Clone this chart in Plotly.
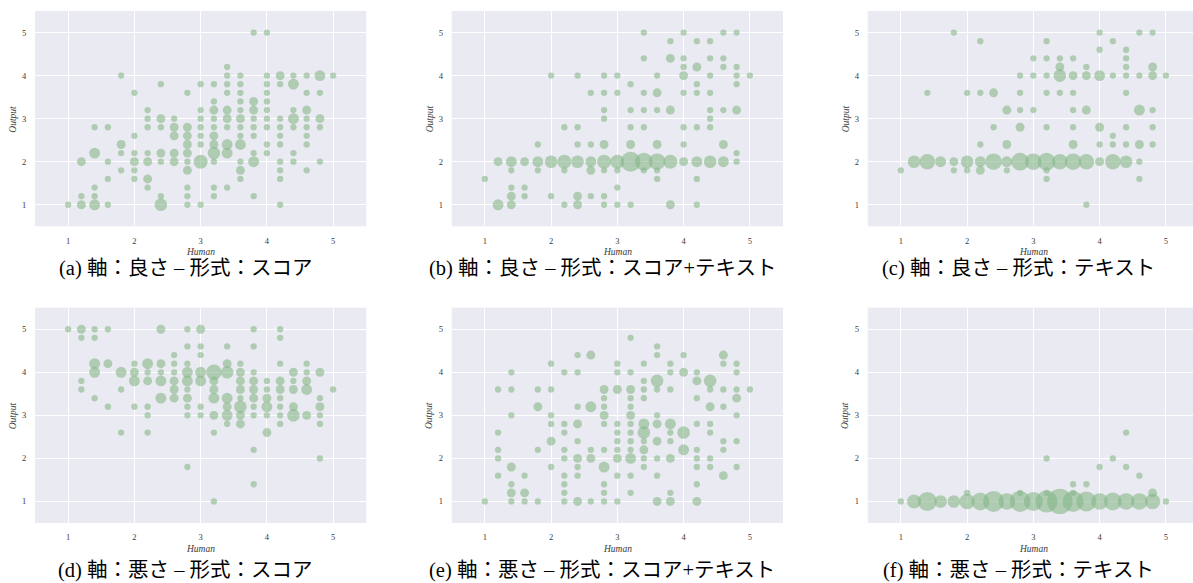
import math
import plotly.graph_objects as go

# ---------------- data: (Human, Output, count) per panel ----------------
pts_a = [
    (1.0, 1.0, 1),
    (1.2, 2.0, 2), (1.2, 1.2, 1), (1.2, 1.0, 2),
    (1.4, 2.8, 1), (1.4, 2.2, 3), (1.4, 1.4, 1), (1.4, 1.2, 1), (1.4, 1.0, 3),
    (1.6, 2.8, 1), (1.6, 2.0, 1), (1.6, 1.6, 1), (1.6, 1.0, 1),
    (1.8, 4.0, 1), (1.8, 2.4, 2), (1.8, 2.2, 1), (1.8, 1.8, 1),
    (2.0, 3.6, 1), (2.0, 2.6, 1), (2.0, 2.2, 1), (2.0, 2.0, 2), (2.0, 1.8, 1), (2.0, 1.6, 1),
    (2.2, 3.2, 1), (2.2, 3.0, 1), (2.2, 2.8, 1), (2.2, 2.2, 1), (2.2, 2.0, 2), (2.2, 1.6, 2), (2.2, 1.4, 1),
    (2.4, 3.8, 1), (2.4, 3.0, 2), (2.4, 2.8, 1), (2.4, 2.2, 2), (2.4, 2.0, 1), (2.4, 1.2, 1), (2.4, 1.0, 4),
    (2.6, 3.0, 1), (2.6, 2.8, 2), (2.6, 2.6, 2), (2.6, 2.2, 2), (2.6, 2.0, 2),
    (2.8, 3.6, 1), (2.8, 2.8, 2), (2.8, 2.6, 2), (2.8, 2.4, 2), (2.8, 2.2, 2), (2.8, 2.0, 1),
    (2.8, 1.8, 2), (2.8, 1.4, 1), (2.8, 1.2, 1), (2.8, 1.0, 1),
    (3.0, 3.8, 1), (3.0, 3.2, 1), (3.0, 3.0, 1), (3.0, 2.8, 1), (3.0, 2.6, 1), (3.0, 2.4, 1), (3.0, 2.0, 5), (3.0, 1.0, 1),
    (3.2, 3.8, 1), (3.2, 3.4, 1), (3.2, 3.2, 2), (3.2, 3.0, 1), (3.2, 2.8, 1), (3.2, 2.6, 2), (3.2, 2.4, 2),
    (3.2, 2.2, 4), (3.2, 2.0, 1), (3.2, 1.4, 1), (3.2, 1.2, 1),
    (3.4, 4.2, 1), (3.4, 4.0, 1), (3.4, 3.8, 1), (3.4, 3.6, 1), (3.4, 3.2, 2), (3.4, 3.0, 2), (3.4, 2.8, 1),
    (3.4, 2.4, 3), (3.4, 2.2, 3), (3.4, 1.4, 1),
    (3.6, 4.0, 1), (3.6, 3.8, 1), (3.6, 3.6, 1), (3.6, 3.4, 1), (3.6, 3.2, 1), (3.6, 3.0, 2), (3.6, 2.8, 1),
    (3.6, 2.6, 1), (3.6, 2.4, 3), (3.6, 2.0, 1), (3.6, 1.8, 2), (3.6, 1.6, 1),
    (3.8, 5.0, 1), (3.8, 3.4, 2), (3.8, 3.2, 2), (3.8, 3.0, 1), (3.8, 2.8, 1), (3.8, 2.6, 1), (3.8, 2.2, 1),
    (3.8, 2.0, 3), (3.8, 1.2, 1),
    (4.0, 5.0, 1), (4.0, 4.0, 1), (4.0, 3.8, 1), (4.0, 3.6, 1), (4.0, 3.4, 1), (4.0, 3.2, 1), (4.0, 3.0, 1),
    (4.0, 2.8, 1), (4.0, 2.4, 1), (4.0, 2.2, 1),
    (4.2, 4.0, 2), (4.2, 3.8, 1), (4.2, 3.0, 1), (4.2, 2.8, 1), (4.2, 2.6, 1), (4.2, 2.4, 1), (4.2, 2.0, 1),
    (4.2, 1.8, 1), (4.2, 1.6, 1), (4.2, 1.0, 1),
    (4.4, 4.0, 1), (4.4, 3.8, 3), (4.4, 3.2, 1), (4.4, 3.0, 3), (4.4, 2.8, 1), (4.4, 2.2, 1), (4.4, 2.0, 1),
    (4.6, 4.0, 1), (4.6, 3.6, 1), (4.6, 3.2, 2), (4.6, 3.0, 1), (4.6, 2.8, 1), (4.6, 2.6, 1), (4.6, 2.4, 1), (4.6, 1.8, 1),
    (4.8, 4.0, 3), (4.8, 3.6, 1), (4.8, 3.0, 2), (4.8, 2.8, 1), (4.8, 2.0, 1),
    (5.0, 4.0, 1),
]

pts_b = [
    (1.0, 1.6, 1),
    (1.2, 2.0, 2), (1.2, 1.0, 3),
    (1.4, 2.0, 3), (1.4, 1.8, 1), (1.4, 1.4, 1), (1.4, 1.2, 2), (1.4, 1.0, 2),
    (1.6, 2.0, 2), (1.6, 1.4, 1), (1.6, 1.2, 1),
    (1.8, 2.4, 1), (1.8, 2.0, 3), (1.8, 1.8, 1),
    (2.0, 4.0, 1), (2.0, 2.0, 4), (2.0, 1.2, 1),
    (2.2, 2.8, 1), (2.2, 2.0, 5), (2.2, 1.8, 1), (2.2, 1.0, 1),
    (2.4, 4.0, 1), (2.4, 2.8, 1), (2.4, 2.4, 1), (2.4, 2.0, 4), (2.4, 1.2, 2), (2.4, 1.0, 2),
    (2.6, 3.6, 1), (2.6, 2.4, 1), (2.6, 2.0, 3), (2.6, 1.8, 2), (2.6, 1.2, 1),
    (2.8, 4.0, 1), (2.8, 3.6, 1), (2.8, 3.2, 1), (2.8, 3.0, 1), (2.8, 2.4, 2), (2.8, 2.0, 5),
    (2.8, 1.8, 1), (2.8, 1.2, 1), (2.8, 1.0, 1),
    (3.0, 4.0, 1), (3.0, 3.6, 1), (3.0, 2.0, 5), (3.0, 1.8, 1), (3.0, 1.4, 1), (3.0, 1.0, 1),
    (3.2, 3.8, 1), (3.2, 3.2, 1), (3.2, 2.8, 1), (3.2, 2.4, 2), (3.2, 2.0, 10), (3.2, 1.0, 1),
    (3.4, 5.0, 1), (3.4, 4.4, 1), (3.4, 3.6, 1), (3.4, 3.2, 1), (3.4, 2.8, 1), (3.4, 2.0, 8), (3.4, 1.8, 1),
    (3.6, 4.0, 1), (3.6, 3.6, 2), (3.6, 3.2, 1), (3.6, 2.4, 2), (3.6, 2.0, 7), (3.6, 1.8, 1), (3.6, 1.6, 1),
    (3.8, 4.8, 1), (3.8, 4.4, 2), (3.8, 3.2, 2), (3.8, 2.0, 5), (3.8, 1.0, 2),
    (4.0, 5.0, 1), (4.0, 4.4, 1), (4.0, 4.2, 1), (4.0, 4.0, 2), (4.0, 3.6, 1), (4.0, 2.8, 1), (4.0, 2.4, 1), (4.0, 2.0, 2),
    (4.2, 4.8, 1), (4.2, 4.2, 2), (4.2, 3.8, 1), (4.2, 3.6, 1), (4.2, 2.8, 1), (4.2, 2.0, 3), (4.2, 1.6, 1), (4.2, 1.0, 1),
    (4.4, 4.8, 1), (4.4, 4.4, 1), (4.4, 4.0, 1), (4.4, 3.6, 1), (4.4, 3.2, 1), (4.4, 3.0, 1), (4.4, 2.8, 1), (4.4, 2.0, 4),
    (4.6, 5.0, 1), (4.6, 4.4, 1), (4.6, 4.2, 1), (4.6, 3.2, 1), (4.6, 2.4, 2), (4.6, 2.0, 3),
    (4.8, 5.0, 1), (4.8, 4.2, 1), (4.8, 4.0, 1), (4.8, 3.8, 1), (4.8, 3.2, 2), (4.8, 2.2, 1), (4.8, 2.0, 1),
    (5.0, 4.0, 1),
]

pts_c = [
    (1.0, 1.8, 1),
    (1.2, 2.0, 4),
    (1.4, 3.6, 1), (1.4, 2.0, 6),
    (1.6, 2.0, 3),
    (1.8, 5.0, 1), (1.8, 2.0, 2), (1.8, 1.8, 1),
    (2.0, 3.6, 1), (2.0, 2.0, 4), (2.0, 1.8, 1),
    (2.2, 4.8, 1), (2.2, 3.6, 1), (2.2, 2.4, 1), (2.2, 2.0, 3), (2.2, 1.8, 2),
    (2.4, 3.6, 2), (2.4, 2.8, 1), (2.4, 2.0, 7),
    (2.6, 3.2, 2), (2.6, 2.4, 2), (2.6, 2.0, 3), (2.6, 1.8, 1),
    (2.8, 4.0, 1), (2.8, 3.6, 1), (2.8, 3.2, 1), (2.8, 2.8, 2), (2.8, 2.0, 8),
    (3.0, 4.4, 1), (3.0, 4.0, 1), (3.0, 3.2, 1), (3.0, 2.0, 7),
    (3.2, 4.8, 1), (3.2, 4.4, 1), (3.2, 4.0, 1), (3.2, 3.6, 1), (3.2, 2.8, 1), (3.2, 2.0, 8), (3.2, 1.8, 1), (3.2, 1.6, 1),
    (3.4, 4.4, 1), (3.4, 4.2, 2), (3.4, 4.0, 4), (3.4, 3.6, 1), (3.4, 2.0, 6),
    (3.6, 4.4, 1), (3.6, 4.0, 2), (3.6, 3.6, 1), (3.6, 3.2, 1), (3.6, 2.8, 1), (3.6, 2.4, 2), (3.6, 2.0, 7),
    (3.8, 4.2, 1), (3.8, 4.0, 2), (3.8, 3.2, 2), (3.8, 2.0, 6), (3.8, 1.0, 1),
    (4.0, 5.0, 1), (4.0, 4.6, 1), (4.0, 4.0, 3), (4.0, 2.8, 2), (4.0, 2.4, 1), (4.0, 2.0, 2),
    (4.2, 4.8, 1), (4.2, 4.0, 1), (4.2, 2.6, 1), (4.2, 2.4, 1), (4.2, 2.0, 6),
    (4.4, 4.6, 1), (4.4, 4.4, 1), (4.4, 4.2, 1), (4.4, 4.0, 1), (4.4, 3.6, 1), (4.4, 2.8, 1), (4.4, 2.4, 1), (4.4, 2.0, 4),
    (4.6, 5.0, 1), (4.6, 4.0, 1), (4.6, 3.2, 3), (4.6, 2.4, 2), (4.6, 2.0, 1), (4.6, 1.6, 1),
    (4.8, 5.0, 1), (4.8, 4.2, 2), (4.8, 4.0, 2), (4.8, 3.2, 1), (4.8, 2.8, 1), (4.8, 2.4, 1),
    (5.0, 4.0, 1),
]

pts_d = [
    (1.0, 5.0, 1),
    (1.2, 5.0, 2), (1.2, 4.8, 1), (1.2, 3.8, 1), (1.2, 3.6, 1),
    (1.4, 5.0, 1), (1.4, 4.8, 1), (1.4, 4.2, 3), (1.4, 4.0, 3), (1.4, 3.4, 1),
    (1.6, 5.0, 1), (1.6, 4.2, 2), (1.6, 3.2, 1),
    (1.8, 4.0, 3), (1.8, 3.6, 1), (1.8, 2.6, 1),
    (2.0, 4.2, 1), (2.0, 4.0, 2), (2.0, 3.8, 3), (2.0, 3.2, 1),
    (2.2, 4.2, 3), (2.2, 4.0, 1), (2.2, 3.8, 2), (2.2, 3.2, 1), (2.2, 3.0, 1), (2.2, 2.6, 1),
    (2.4, 5.0, 2), (2.4, 4.2, 2), (2.4, 4.0, 1), (2.4, 3.8, 3), (2.4, 3.4, 3),
    (2.6, 4.4, 1), (2.6, 4.2, 1), (2.6, 4.0, 1), (2.6, 3.8, 2), (2.6, 3.6, 2), (2.6, 3.4, 2),
    (2.8, 5.0, 1), (2.8, 4.6, 1), (2.8, 4.2, 1), (2.8, 4.0, 3), (2.8, 3.8, 3), (2.8, 3.6, 1),
    (2.8, 3.4, 2), (2.8, 3.2, 1), (2.8, 3.0, 1), (2.8, 1.8, 1),
    (3.0, 5.0, 2), (3.0, 4.6, 1), (3.0, 4.4, 1), (3.0, 4.0, 3), (3.0, 3.8, 3), (3.0, 3.2, 1), (3.0, 3.0, 1),
    (3.2, 4.0, 6), (3.2, 3.8, 2), (3.2, 3.6, 2), (3.2, 3.4, 3), (3.2, 3.0, 2), (3.2, 2.6, 1), (3.2, 1.0, 1),
    (3.4, 4.6, 1), (3.4, 4.2, 2), (3.4, 4.0, 4), (3.4, 3.4, 3), (3.4, 3.2, 2), (3.4, 3.0, 3), (3.4, 2.8, 1),
    (3.6, 4.2, 1), (3.6, 4.0, 2), (3.6, 3.8, 2), (3.6, 3.6, 2), (3.6, 3.4, 1), (3.6, 3.2, 4), (3.6, 3.0, 2), (3.6, 2.8, 2),
    (3.8, 5.0, 1), (3.8, 4.6, 1), (3.8, 4.0, 1), (3.8, 3.8, 2), (3.8, 3.6, 2), (3.8, 3.4, 2), (3.8, 3.2, 1),
    (3.8, 3.0, 1), (3.8, 2.2, 1), (3.8, 1.4, 1),
    (4.0, 3.8, 1), (4.0, 3.6, 1), (4.0, 3.4, 2), (4.0, 3.2, 3), (4.0, 3.0, 1), (4.0, 2.6, 2),
    (4.2, 5.0, 1), (4.2, 4.8, 1), (4.2, 4.2, 1), (4.2, 3.8, 2), (4.2, 3.6, 2), (4.2, 3.4, 1), (4.2, 3.2, 1),
    (4.2, 3.0, 1), (4.2, 2.8, 1),
    (4.4, 4.0, 2), (4.4, 3.8, 1), (4.4, 3.6, 2), (4.4, 3.2, 2), (4.4, 3.0, 4),
    (4.6, 4.2, 1), (4.6, 4.0, 1), (4.6, 3.8, 2), (4.6, 3.6, 3), (4.6, 3.0, 2),
    (4.8, 4.0, 2), (4.8, 3.4, 1), (4.8, 3.2, 2), (4.8, 3.0, 1), (4.8, 2.8, 1), (4.8, 2.0, 1),
    (5.0, 3.6, 1),
]

pts_e = [
    (1.0, 1.0, 1),
    (1.2, 3.6, 1), (1.2, 2.6, 1), (1.2, 2.2, 1), (1.2, 2.0, 1), (1.2, 1.6, 1),
    (1.4, 4.0, 1), (1.4, 3.6, 1), (1.4, 3.0, 1), (1.4, 1.8, 2), (1.4, 1.4, 1), (1.4, 1.2, 2), (1.4, 1.0, 1),
    (1.6, 1.6, 1), (1.6, 1.2, 2), (1.6, 1.0, 1),
    (1.8, 3.6, 1), (1.8, 3.2, 2), (1.8, 2.2, 1), (1.8, 1.0, 1),
    (2.0, 4.2, 1), (2.0, 3.6, 1), (2.0, 3.0, 1), (2.0, 2.8, 1), (2.0, 2.4, 2), (2.0, 1.8, 1),
    (2.2, 4.0, 1), (2.2, 2.8, 1), (2.2, 2.6, 1), (2.2, 2.2, 1), (2.2, 2.0, 1), (2.2, 1.6, 1),
    (2.2, 1.4, 1), (2.2, 1.2, 1), (2.2, 1.0, 1),
    (2.4, 4.4, 1), (2.4, 4.0, 1), (2.4, 3.2, 1), (2.4, 2.8, 2), (2.4, 2.4, 1), (2.4, 2.0, 2),
    (2.4, 1.8, 1), (2.4, 1.6, 1), (2.4, 1.0, 2),
    (2.6, 4.4, 2), (2.6, 3.2, 3), (2.6, 2.2, 1), (2.6, 2.0, 2), (2.6, 1.0, 1),
    (2.8, 3.6, 2), (2.8, 3.4, 1), (2.8, 3.2, 1), (2.8, 3.0, 2), (2.8, 2.8, 1), (2.8, 2.2, 1),
    (2.8, 1.8, 3), (2.8, 1.4, 1), (2.8, 1.2, 1), (2.8, 1.0, 1),
    (3.0, 4.2, 1), (3.0, 4.0, 1), (3.0, 3.6, 2), (3.0, 2.8, 1), (3.0, 2.6, 1), (3.0, 2.4, 1),
    (3.0, 2.2, 1), (3.0, 2.0, 2), (3.0, 1.6, 1), (3.0, 1.0, 1),
    (3.2, 4.8, 1), (3.2, 4.0, 1), (3.2, 3.6, 2), (3.2, 3.4, 1), (3.2, 3.2, 1), (3.2, 3.0, 2), (3.2, 2.8, 1),
    (3.2, 2.6, 1), (3.2, 2.4, 1), (3.2, 2.2, 1), (3.2, 2.0, 3), (3.2, 1.6, 1), (3.2, 1.2, 1),
    (3.4, 4.2, 1), (3.4, 3.8, 1), (3.4, 3.6, 1), (3.4, 3.4, 1), (3.4, 2.8, 3), (3.4, 2.6, 4),
    (3.4, 2.4, 1), (3.4, 2.2, 2), (3.4, 2.0, 1), (3.4, 1.8, 1),
    (3.6, 4.6, 1), (3.6, 4.4, 1), (3.6, 3.8, 4), (3.6, 3.6, 1), (3.6, 3.0, 1), (3.6, 2.8, 2),
    (3.6, 2.4, 2), (3.6, 2.0, 1), (3.6, 1.6, 1), (3.6, 1.0, 2),
    (3.8, 4.2, 1), (3.8, 4.0, 1), (3.8, 3.6, 1), (3.8, 2.8, 3), (3.8, 2.6, 1), (3.8, 2.4, 1),
    (3.8, 2.0, 2), (3.8, 1.2, 1), (3.8, 1.0, 2),
    (4.0, 4.4, 1), (4.0, 4.0, 2), (4.0, 2.6, 4), (4.0, 2.2, 3),
    (4.2, 4.0, 1), (4.2, 3.8, 2), (4.2, 3.4, 1), (4.2, 2.8, 1), (4.2, 2.2, 1), (4.2, 2.0, 1),
    (4.2, 1.8, 1), (4.2, 1.4, 1), (4.2, 1.0, 2),
    (4.4, 3.8, 4), (4.4, 3.6, 1), (4.4, 3.2, 2), (4.4, 2.8, 1), (4.4, 2.6, 1), (4.4, 2.0, 1), (4.4, 1.8, 1),
    (4.6, 4.4, 2), (4.6, 4.2, 1), (4.6, 3.6, 1), (4.6, 3.2, 1), (4.6, 2.4, 1), (4.6, 2.2, 1), (4.6, 1.6, 2),
    (4.8, 4.2, 1), (4.8, 4.0, 1), (4.8, 3.6, 1), (4.8, 3.4, 2), (4.8, 3.0, 1), (4.8, 2.4, 1), (4.8, 1.8, 1),
    (5.0, 3.6, 1),
]

pts_f = [
    (1.0, 1.0, 1), (1.2, 1.0, 5), (1.4, 1.0, 9), (1.6, 1.0, 4), (1.8, 1.0, 4),
    (2.0, 1.2, 1), (2.0, 1.0, 6), (2.2, 1.0, 8), (2.4, 1.0, 11), (2.6, 1.0, 7),
    (2.8, 1.2, 1), (2.8, 1.0, 11), (3.0, 1.0, 9),
    (3.2, 2.0, 1), (3.2, 1.2, 1), (3.2, 1.0, 12), (3.4, 1.0, 16),
    (3.6, 1.4, 1), (3.6, 1.2, 1), (3.6, 1.0, 11),
    (3.8, 1.4, 1), (3.8, 1.0, 10), (4.0, 1.8, 1), (4.0, 1.0, 7),
    (4.2, 2.0, 1), (4.2, 1.0, 8), (4.4, 2.6, 1), (4.4, 1.8, 1), (4.4, 1.0, 7),
    (4.6, 1.6, 1), (4.6, 1.0, 7), (4.8, 1.2, 2), (4.8, 1.0, 6), (5.0, 1.0, 1),
]

captions = [
    "(a) 軸：良さ – 形式：スコア",
    "(b) 軸：良さ – 形式：スコア+テキスト",
    "(c) 軸：良さ – 形式：テキスト",
    "(d) 軸：悪さ – 形式：スコア",
    "(e) 軸：悪さ – 形式：スコア+テキスト",
    "(f) 軸：悪さ – 形式：テキスト",
]
tick_vals = [1, 2, 3, 4, 5]
x_title = "Human"
y_title = "Output"

panels = [pts_a, pts_b, pts_c, pts_d, pts_e, pts_f]

# ---------------- layout geometry (pixels) ----------------
W, H = 1193, 583
col_left = [35.0, 451.7, 867.7]
plot_w = 331.3
row_top = [11.0, 307.7]
plot_h = 215.3
caption_y = [269.0, 570.0]
xtitle_y = [252.0, 548.5]

BG = "#EAEAF2"
MARK = "rgba(128,180,130,0.8)"
TXT = "#3a3a3a"
SERIF = "Liberation Serif, Times New Roman, serif"
CAP_FONT = "Liberation Serif, Noto Sans CJK JP, serif"

fig = go.Figure()
annotations = []

for i, pts in enumerate(panels):
    r, c = divmod(i, 3)
    k = i + 1
    xs = [p[0] for p in pts]
    ys = [p[1] for p in pts]
    ns = [p[2] for p in pts]
    sizes = [6.3 * math.sqrt(n) for n in ns]
    fig.add_trace(go.Scatter(
        x=xs, y=ys, mode="markers",
        marker=dict(size=sizes, sizemode="diameter", color=MARK, line=dict(width=0)),
        xaxis=f"x{k}", yaxis=f"y{k}", showlegend=False,
        hovertemplate="Human=%{x}<br>Output=%{y}<extra></extra>",
    ))
    left = col_left[c]
    right = min(left + plot_w, W)
    x_hi = 0.5 + 5.0 * (right - left) / plot_w
    top = row_top[r]
    bottom = top + plot_h
    axis_common = dict(
        showgrid=True, gridcolor="white", gridwidth=1, zeroline=False, showline=False,
        tickvals=tick_vals, ticks="outside", tickcolor="rgba(0,0,0,0)",
        tickfont=dict(family=SERIF, size=8.5, color=TXT),
    )
    fig.layout[f"xaxis{k}"] = dict(
        domain=[left / W, right / W], range=[0.5, x_hi], anchor=f"y{k}", ticklen=6, **axis_common)
    fig.layout[f"yaxis{k}"] = dict(
        domain=[1 - bottom / H, 1 - top / H], range=[0.5, 5.5], anchor=f"x{k}", ticklen=6, **axis_common)

    # axis titles
    annotations.append(dict(
        text=x_title, xref="paper", yref="paper",
        x=(left + plot_w / 2) / W, y=1 - xtitle_y[r] / H,
        xanchor="center", yanchor="middle", showarrow=False,
        font=dict(family=SERIF, size=9.5, color=TXT, style="italic")))
    annotations.append(dict(
        text=y_title, xref="paper", yref="paper",
        x=(left - 22) / W, y=1 - (top + plot_h / 2) / H,
        xanchor="center", yanchor="middle", showarrow=False, textangle=-90,
        font=dict(family=SERIF, size=9.5, color=TXT, style="italic")))
    # caption
    annotations.append(dict(
        text=captions[i], xref="paper", yref="paper",
        x=(left + plot_w / 2 - 15) / W, y=1 - caption_y[r] / H,
        xanchor="center", yanchor="middle", showarrow=False,
        font=dict(family=CAP_FONT, size=20.5, color="black")))

fig.update_layout(
    width=W, height=H,
    margin=dict(l=0, r=0, t=0, b=0),
    paper_bgcolor="white", plot_bgcolor=BG,
    annotations=annotations,
    showlegend=False,
)

fig.write_html(
    "out.html",
    config={"displayModeBar": False},
    post_script="document.body.style.margin='0px';document.body.style.overflow='hidden';",
)
